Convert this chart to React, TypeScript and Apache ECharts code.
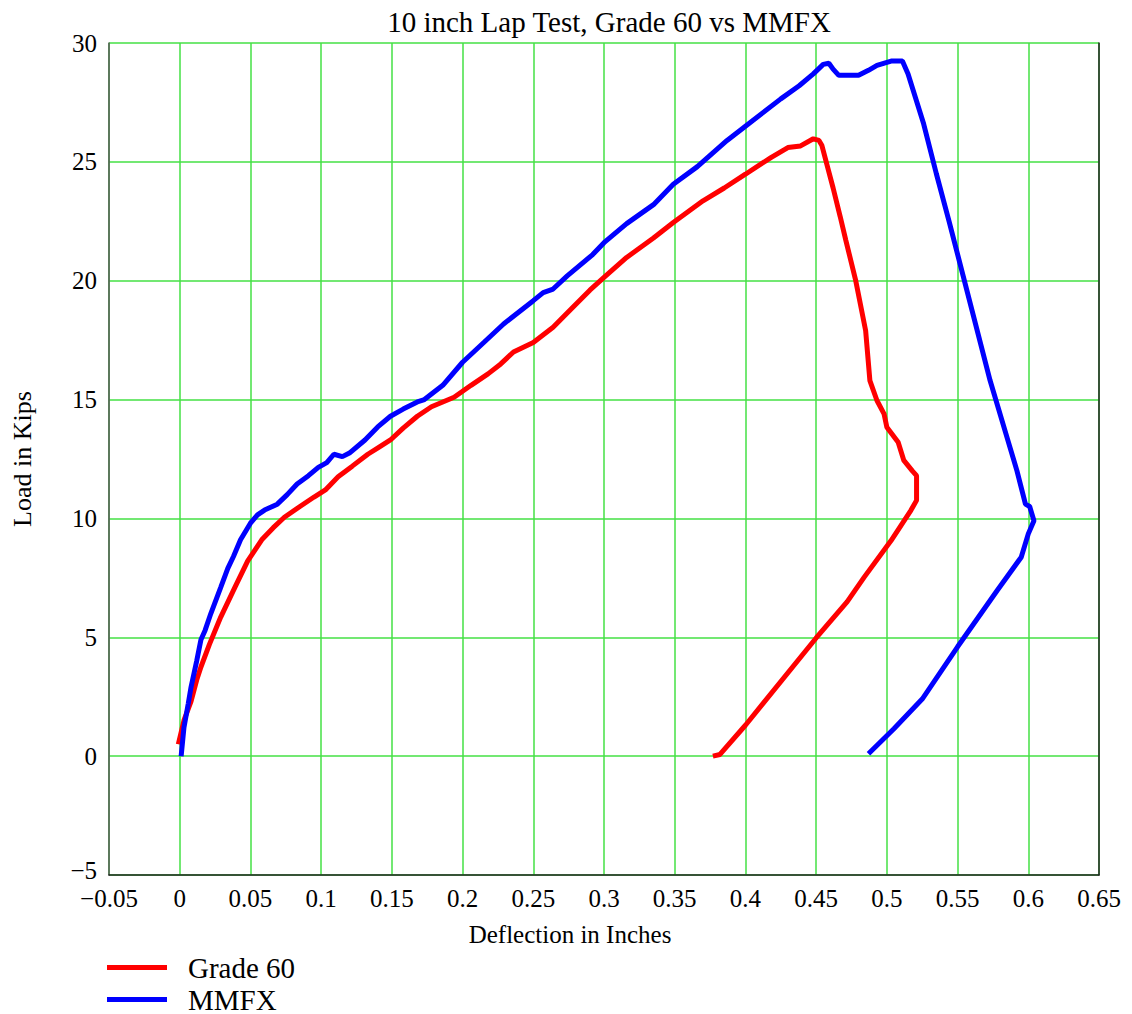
import React, { useEffect, useRef } from "react";
import * as echarts from "echarts";

const TITLE = "10 inch Lap Test, Grade 60 vs MMFX";
const X_NAME = "Deflection in Inches";
const Y_NAME = "Load in Kips";
const SERIES_NAMES = ["Grade 60", "MMFX"];

const grade60: [number, number][] = [
  [-0.001, 0.5], [0.003, 1.5], [0.008, 2.3], [0.012, 3.2], [0.015, 3.75], [0.021, 4.7],
  [0.029, 5.85], [0.039, 7.1], [0.048, 8.2], [0.058, 9.1], [0.066, 9.6], [0.074, 10.05],
  [0.085, 10.5], [0.095, 10.9], [0.103, 11.2], [0.112, 11.75], [0.122, 12.2], [0.133, 12.7],
  [0.141, 13.0], [0.149, 13.3], [0.158, 13.8], [0.168, 14.3], [0.178, 14.7], [0.194, 15.1],
  [0.206, 15.6], [0.218, 16.08], [0.227, 16.5], [0.236, 17.0], [0.25, 17.4], [0.264, 18.04],
  [0.278, 18.88], [0.29, 19.6], [0.3, 20.14], [0.316, 20.98], [0.335, 21.8], [0.349, 22.45],
  [0.37, 23.36], [0.385, 23.9], [0.4, 24.48], [0.418, 25.18], [0.43, 25.6], [0.439, 25.67],
  [0.448, 25.97], [0.452, 25.9], [0.454, 25.7], [0.458, 24.8], [0.462, 23.9], [0.467, 22.7],
  [0.471, 21.7], [0.478, 20.0], [0.485, 17.9], [0.488, 15.8], [0.493, 14.96], [0.498, 14.4],
  [0.5, 13.84], [0.508, 13.2], [0.512, 12.44], [0.518, 12.0], [0.521, 11.8], [0.521, 10.76],
  [0.517, 10.34], [0.503, 9.07], [0.484, 7.53], [0.472, 6.5], [0.45, 4.97], [0.4, 1.3],
  [0.382, 0.07], [0.377, 0],
];

const mmfx: [number, number][] = [
  [0.001, 0], [0.003, 1.2], [0.006, 2.2], [0.008, 2.9], [0.012, 4.0], [0.015, 4.9],
  [0.018, 5.3], [0.022, 6.0], [0.029, 7.1], [0.034, 7.9], [0.038, 8.4], [0.043, 9.1],
  [0.05, 9.8], [0.055, 10.15], [0.06, 10.35], [0.069, 10.6], [0.076, 11.0], [0.083, 11.45],
  [0.091, 11.8], [0.098, 12.15], [0.104, 12.35], [0.109, 12.7], [0.115, 12.6], [0.12, 12.75],
  [0.131, 13.3], [0.14, 13.85], [0.149, 14.3], [0.158, 14.6], [0.168, 14.9], [0.173, 15.0],
  [0.186, 15.6], [0.2, 16.57], [0.215, 17.4], [0.229, 18.18], [0.25, 19.16], [0.257, 19.5],
  [0.264, 19.65], [0.274, 20.2], [0.292, 21.1], [0.3, 21.6], [0.316, 22.4], [0.335, 23.2],
  [0.349, 24.06], [0.366, 24.8], [0.387, 25.9], [0.4, 26.5], [0.425, 27.65], [0.438, 28.2],
  [0.448, 28.7], [0.455, 29.1], [0.459, 29.15], [0.462, 28.9], [0.466, 28.64], [0.48, 28.64],
  [0.487, 28.85], [0.493, 29.06], [0.503, 29.24], [0.511, 29.24], [0.515, 28.7], [0.526, 26.6],
  [0.535, 24.5], [0.544, 22.5], [0.573, 15.8], [0.585, 13.4], [0.592, 12.0], [0.598, 10.6],
  [0.601, 10.5], [0.604, 9.9], [0.6, 9.35], [0.595, 8.37], [0.578, 6.97], [0.55, 4.6],
  [0.525, 2.4], [0.505, 1.15], [0.487, 0.1],
];

const X_MIN = -0.05, X_MAX = 0.65, X_STEP = 0.05;
const Y_MIN = -5, Y_MAX = 30, Y_STEP = 5;

const FONT = "'Liberation Serif', 'Times New Roman', serif";
const GRID_GREEN = "#44e044";

const fmt = (v: number) => String(Math.round(v * 100) / 100).replace("-", "\u2212");
const fmtY = (v: number) => (v === Y_MIN ? "{low|" + fmt(v) + "}" : fmt(v));

const legendBase = {
  orient: "vertical",
  left: 107,
  padding: 0,
  itemGap: 0,
  itemWidth: 60,
  itemHeight: 5,
  icon: "rect",
  textStyle: { fontFamily: FONT, fontSize: 29, color: "#000", lineHeight: 29, padding: [0, 0, 0, 16] },
};

export default function App() {
  const ref = useRef<HTMLDivElement>(null);
  useEffect(() => {
    if (!ref.current) return;
    const chart = echarts.init(ref.current, undefined, { renderer: "svg" });
    chart.setOption({
      animation: false,
      backgroundColor: "#ffffff",
      textStyle: { fontFamily: FONT },
      title: {
        text: TITLE,
        left: 604,
        textAlign: "center",
        top: 2,
        textStyle: { fontFamily: FONT, fontSize: 29, fontWeight: "normal", color: "#000" },
      },
      grid: { left: 109, top: 43, right: 33, bottom: 139 },
      legend: [
        { ...legendBase, top: 953, data: [SERIES_NAMES[0]] },
        { ...legendBase, top: 985, data: [SERIES_NAMES[1]] },
      ],
      xAxis: {
        type: "value",
        min: X_MIN,
        max: X_MAX,
        interval: X_STEP,
        name: X_NAME,
        nameLocation: "middle",
        nameGap: 47,
        nameTextStyle: { fontFamily: FONT, fontSize: 25, color: "#000", padding: [0, 68, 0, 0] },
        axisLine: { onZero: false, lineStyle: { color: "#222", width: 1.5 } },
        axisTick: { show: false },
        axisLabel: { formatter: fmt, fontFamily: FONT, fontSize: 25, lineHeight: 18, color: "#000", margin: 14 },
        splitLine: { show: true, lineStyle: { color: GRID_GREEN, width: 1.5 } },
      },
      yAxis: [
        {
          type: "value",
          min: Y_MIN,
          max: Y_MAX,
          interval: Y_STEP,
          name: Y_NAME,
          nameLocation: "middle",
          nameGap: 74,
          nameTextStyle: { fontFamily: FONT, fontSize: 26, color: "#000" },
          axisLine: { show: true, onZero: false, lineStyle: { color: "#555", width: 1.5 } },
          axisTick: { show: false },
          axisLabel: {
            formatter: fmtY,
            fontFamily: FONT,
            fontSize: 25,
            lineHeight: 18,
            color: "#000",
            margin: 12,
            rich: {
              low: { fontFamily: FONT, fontSize: 25, lineHeight: 18, color: "#000", padding: [0, 0, 10, 0] },
            },
          },
          splitLine: { show: true, lineStyle: { color: GRID_GREEN, width: 1.5 } },
        },
        {
          type: "value",
          position: "right",
          min: Y_MIN,
          max: Y_MAX,
          interval: Y_STEP,
          axisLine: { show: true, onZero: false, lineStyle: { color: "#222", width: 1.5 } },
          axisTick: { show: false },
          axisLabel: { show: false },
          splitLine: { show: false },
        },
      ],
      series: [
        {
          name: SERIES_NAMES[0],
          type: "line",
          data: grade60,
          showSymbol: false,
          symbol: "none",
          lineStyle: { color: "#ff0000", width: 5 },
          itemStyle: { color: "#ff0000" },
        },
        {
          name: SERIES_NAMES[1],
          type: "line",
          data: mmfx,
          showSymbol: false,
          symbol: "none",
          lineStyle: { color: "#0000ff", width: 5 },
          itemStyle: { color: "#0000ff" },
        },
      ],
    });
    return () => chart.dispose();
  }, []);
  return <div ref={ref} style={{ width: 1132, height: 1014, position: "absolute", left: 0, top: 0 }} />;
}
